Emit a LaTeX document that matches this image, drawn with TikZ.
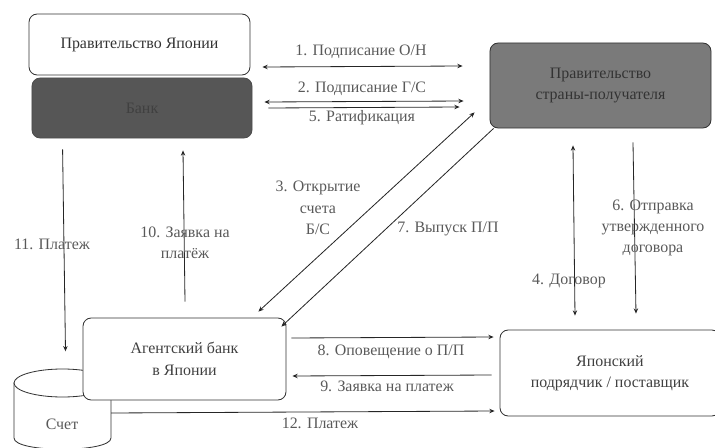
\documentclass[tikz,border=0pt]{standalone}
\usepackage{fontspec}
\setmainfont{Liberation Serif}
\usepackage{xcolor}
\usetikzlibrary{arrows.meta, calc}
\definecolor{darkbox}{HTML}{565656}
\definecolor{midbox}{HTML}{7A7A7A}
\tikzset{
	partybox/.style={draw=black!80, rounded corners=7pt, line width=0.7pt, fill=white, align=center, inner sep=0pt},
	link/.style={line width=0.7pt, black!85},
	tag/.style={text=black!65, align=center, inner sep=0pt},
}

\begin{document}
\begin{tikzpicture}[x=0.03cm, y=-0.03cm, >={Stealth[length=4.5pt,width=3.8pt]}, font=\fontsize{13.6}{18.2}\selectfont]
			\useasboundingbox (0,0) rectangle (715,448);
			% cylinder sits behind the agent bank box
			\node[minimum width=2.91cm, minimum height=2.37cm, inner sep=0pt] (acc) at (62.5,408) {};
			\draw[line width=0.7pt, black!80, fill=white] (14,383) -- (14,438) .. controls (14,453) and (111,453) .. (111,438) -- (111,383) -- cycle;
			\draw[line width=0.7pt, black!80, fill=white] (62.5,383) ellipse (48.5 and 14);
			\node[tag] (acctext) at (62,424) {Счет};

			\node[partybox, text=black!80, minimum width=6.63cm, minimum height=1.83cm] (gov) at (139.5,44.5) {Правительство Японии};
			\node[partybox, fill=darkbox, draw=black!70, text=black!75, minimum width=6.6cm, minimum height=1.8cm] (jbank) at (142,108) {Банк};
			\node[partybox, fill=midbox, draw=black!80, text=black!80, minimum width=6.63cm, minimum height=2.55cm] (recip) at (600.5,85.5)
			{Правительство\\ страны-получателя};
			\node[partybox, text=black!75, minimum width=6.09cm, minimum height=2.46cm] (agent) at (184.5,359) {Агентский банк\\ в Японии};
			\node[partybox, text=black!75, minimum width=6.6cm, minimum height=2.58cm] (contr) at (610,373) {Японский\\ подрядчик / поставщик};

			\draw[link, <->] ($(gov.east)+(12,22.5)$) -- ($(recip.west)+(-27,-19.5)$);
			\draw[link, <->] ($(jbank.east)+(12,-6)$) -- ($(recip.west)+(-26,15.5)$);
			\draw[link, ->] ($(jbank.east)+(16,0)$) -- ($(recip.west)+(-30,21.5)$);
			\draw[link, <->] ($(recip.south west)+(-15,-16)$) -- ($(agent.north east)+(-28,-6)$);
			\draw[link, ->] ($(recip.south west)+(4,0)$) -- ($(agent.north east)+(-5,9)$);
			\draw[link, ->] ($(jbank.south west)+(31,11)$) -- ($(acc.north)+(3,-17)$);
			\draw[link, ->] ($(agent.north)+(0.5,-16)$) -- ($(jbank.south)+(41,12)$);
			\draw[link, <->] ($(recip.south)+(-27.5,17)$) -- ($(contr.north)+(-35,-14)$);
			\draw[link, ->] ($(recip.south)+(32.5,14)$) -- ($(contr.north)+(26,-16)$);
			\draw[link, ->] ($(agent.east)+(5,-21)$) -- ($(contr.west)+(-6,-36)$);
			\draw[link, ->] ($(contr.west)+(-8,2)$) -- ($(agent.east)+(6,17)$);
			\draw[link, ->] ($(acc.east)+(0,5)$) -- ($(contr.west)+(-5,38)$);

			\node[tag] (t1) at (361,52) {1. Подписание О/Н};
			\node[tag] (t2) at (362,89) {2. Подписание Г/С};
			\node[tag] (t5) at (362,118) {5. Ратификация};
			\node[tag] (t3) at (318,208) {3. Открытие\\ счета\\ Б/С};
			\node[tag] (t7) at (448,229) {7. Выпуск П/П};
			\node[tag] (t11) at (52,244) {11. Платеж};
			\node[tag] (t10) at (185,243) {10. Заявка на\\ платёж};
			\node[tag] (t4) at (569,281) {4. Договор};
			\node[tag] (t6) at (653,228) {6. Отправка\\ утвержденного\\ договора};
			\node[tag] (t8) at (391,352) {8. Оповещение о П/П};
			\node[tag] (t9) at (387,386) {9. Заявка на платеж};
			\node[tag] (t12) at (320,423) {12. Платеж};
		\end{tikzpicture}
\end{document}
